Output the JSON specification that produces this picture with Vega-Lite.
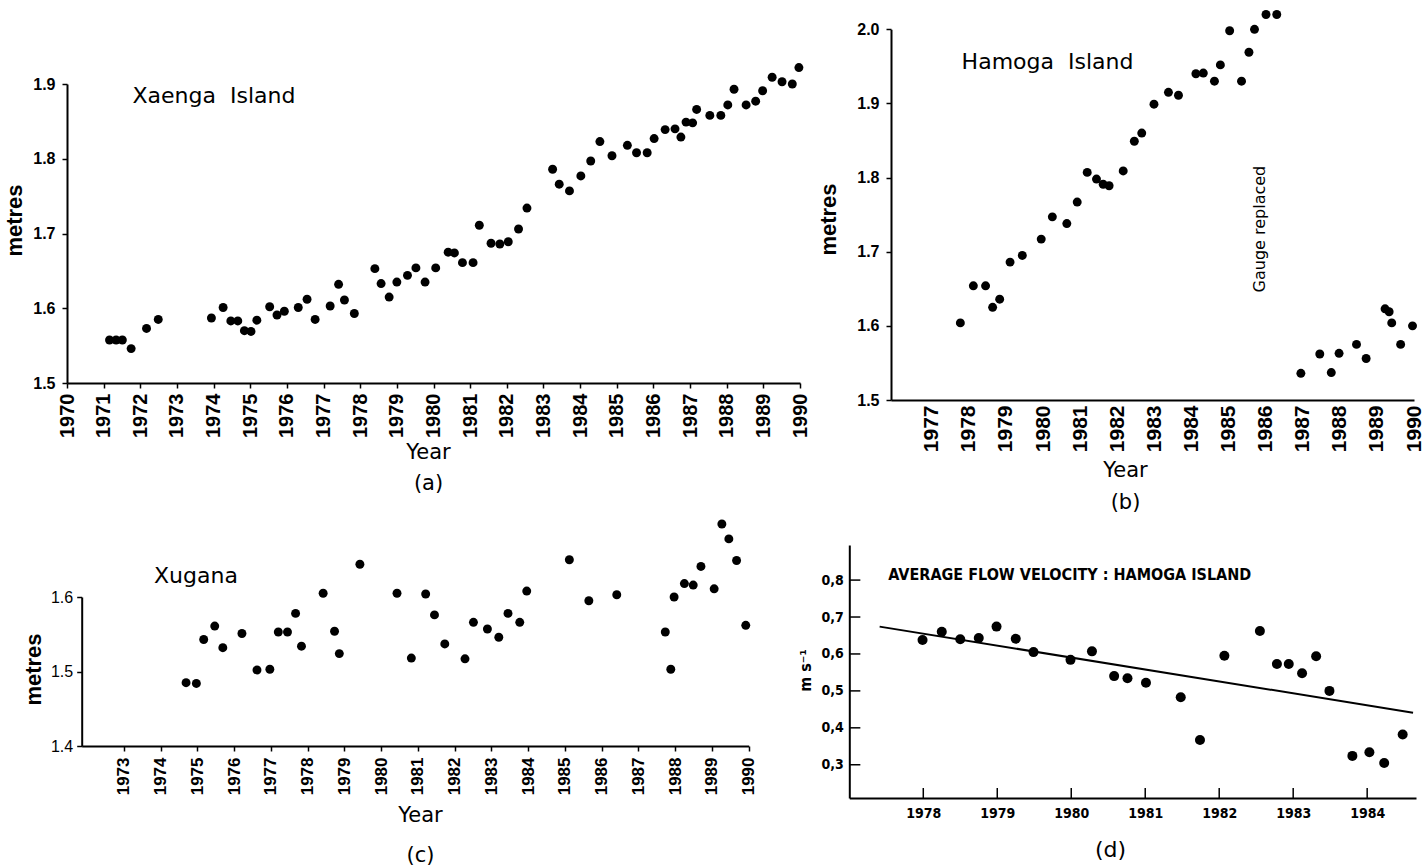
{
  "$schema": "https://vega.github.io/schema/vega-lite/v6.json",
  "width": 1424,
  "height": 867,
  "autosize": {"type": "none"},
  "padding": 0,
  "background": "white",
  "config": {
    "view": {"stroke": null},
    "axis": {"grid": false, "domainColor": "black", "tickColor": "black", "labelColor": "black", "titleColor": "black", "labelFlush": false, "labelOverlap": false, "labelBound": false, "domainWidth": 2, "tickWidth": 1.5}
  },
  "datasets": {
    "a": [
      {"year": 1971.16, "value": 1.5575}, {"year": 1971.34, "value": 1.5575}, {"year": 1971.51, "value": 1.5575}, {"year": 1971.75, "value": 1.546},
      {"year": 1972.17, "value": 1.573}, {"year": 1972.49, "value": 1.585}, {"year": 1973.94, "value": 1.587}, {"year": 1974.26, "value": 1.601},
      {"year": 1974.47, "value": 1.583}, {"year": 1974.66, "value": 1.583}, {"year": 1974.84, "value": 1.570}, {"year": 1975.02, "value": 1.569},
      {"year": 1975.18, "value": 1.584}, {"year": 1975.53, "value": 1.602}, {"year": 1975.73, "value": 1.591}, {"year": 1975.93, "value": 1.596},
      {"year": 1976.31, "value": 1.601}, {"year": 1976.55, "value": 1.612}, {"year": 1976.77, "value": 1.585}, {"year": 1977.18, "value": 1.603},
      {"year": 1977.41, "value": 1.632}, {"year": 1977.57, "value": 1.611}, {"year": 1977.84, "value": 1.593}, {"year": 1978.40, "value": 1.653},
      {"year": 1978.57, "value": 1.633}, {"year": 1978.79, "value": 1.615}, {"year": 1979.00, "value": 1.635}, {"year": 1979.29, "value": 1.644},
      {"year": 1979.52, "value": 1.654}, {"year": 1979.77, "value": 1.635}, {"year": 1980.06, "value": 1.654}, {"year": 1980.40, "value": 1.675},
      {"year": 1980.57, "value": 1.674}, {"year": 1980.79, "value": 1.661}, {"year": 1981.08, "value": 1.661}, {"year": 1981.25, "value": 1.711},
      {"year": 1981.57, "value": 1.687}, {"year": 1981.81, "value": 1.686}, {"year": 1982.04, "value": 1.689}, {"year": 1982.32, "value": 1.706},
      {"year": 1982.55, "value": 1.734}, {"year": 1983.25, "value": 1.786}, {"year": 1983.43, "value": 1.766}, {"year": 1983.71, "value": 1.757},
      {"year": 1984.02, "value": 1.777}, {"year": 1984.29, "value": 1.797}, {"year": 1984.54, "value": 1.823}, {"year": 1984.87, "value": 1.804},
      {"year": 1985.29, "value": 1.818}, {"year": 1985.54, "value": 1.808}, {"year": 1985.83, "value": 1.808}, {"year": 1986.02, "value": 1.827},
      {"year": 1986.32, "value": 1.839}, {"year": 1986.59, "value": 1.840}, {"year": 1986.75, "value": 1.829}, {"year": 1986.89, "value": 1.849},
      {"year": 1987.07, "value": 1.848}, {"year": 1987.18, "value": 1.866}, {"year": 1987.54, "value": 1.858}, {"year": 1987.84, "value": 1.858},
      {"year": 1988.03, "value": 1.872}, {"year": 1988.20, "value": 1.893}, {"year": 1988.53, "value": 1.872}, {"year": 1988.79, "value": 1.877},
      {"year": 1988.98, "value": 1.891}, {"year": 1989.24, "value": 1.909}, {"year": 1989.51, "value": 1.903}, {"year": 1989.79, "value": 1.900},
      {"year": 1989.97, "value": 1.922}
    ],
    "b": [
      {"year": 1977.77, "value": 1.604}, {"year": 1978.12, "value": 1.654}, {"year": 1978.45, "value": 1.654}, {"year": 1978.64, "value": 1.625},
      {"year": 1978.83, "value": 1.636}, {"year": 1979.11, "value": 1.686}, {"year": 1979.44, "value": 1.695}, {"year": 1979.95, "value": 1.717},
      {"year": 1980.25, "value": 1.747}, {"year": 1980.64, "value": 1.738}, {"year": 1980.92, "value": 1.767}, {"year": 1981.19, "value": 1.807},
      {"year": 1981.44, "value": 1.798}, {"year": 1981.62, "value": 1.791}, {"year": 1981.78, "value": 1.789}, {"year": 1982.16, "value": 1.809},
      {"year": 1982.46, "value": 1.849}, {"year": 1982.66, "value": 1.860}, {"year": 1982.99, "value": 1.899}, {"year": 1983.38, "value": 1.915},
      {"year": 1983.65, "value": 1.911}, {"year": 1984.12, "value": 1.940}, {"year": 1984.32, "value": 1.941}, {"year": 1984.62, "value": 1.930},
      {"year": 1984.78, "value": 1.952}, {"year": 1985.03, "value": 1.998}, {"year": 1985.35, "value": 1.930}, {"year": 1985.55, "value": 1.969},
      {"year": 1985.70, "value": 2.000}, {"year": 1986.01, "value": 2.020}, {"year": 1986.30, "value": 2.020}, {"year": 1986.95, "value": 1.536},
      {"year": 1987.46, "value": 1.562}, {"year": 1987.77, "value": 1.537}, {"year": 1987.98, "value": 1.563}, {"year": 1988.45, "value": 1.575},
      {"year": 1988.71, "value": 1.556}, {"year": 1989.22, "value": 1.623}, {"year": 1989.33, "value": 1.619}, {"year": 1989.40, "value": 1.604},
      {"year": 1989.64, "value": 1.575}, {"year": 1989.96, "value": 1.600}
    ],
    "c": [
      {"year": 1974.69, "value": 1.485}, {"year": 1974.97, "value": 1.484}, {"year": 1975.17, "value": 1.543}, {"year": 1975.47, "value": 1.561},
      {"year": 1975.69, "value": 1.532}, {"year": 1976.21, "value": 1.551}, {"year": 1976.62, "value": 1.502}, {"year": 1976.97, "value": 1.503},
      {"year": 1977.20, "value": 1.553}, {"year": 1977.45, "value": 1.553}, {"year": 1977.67, "value": 1.578}, {"year": 1977.83, "value": 1.534},
      {"year": 1978.42, "value": 1.605}, {"year": 1978.73, "value": 1.554}, {"year": 1978.86, "value": 1.524}, {"year": 1979.42, "value": 1.644},
      {"year": 1980.43, "value": 1.605}, {"year": 1980.82, "value": 1.518}, {"year": 1981.21, "value": 1.604}, {"year": 1981.45, "value": 1.576},
      {"year": 1981.73, "value": 1.537}, {"year": 1982.28, "value": 1.517}, {"year": 1982.51, "value": 1.566}, {"year": 1982.89, "value": 1.557},
      {"year": 1983.20, "value": 1.546}, {"year": 1983.45, "value": 1.578}, {"year": 1983.77, "value": 1.566}, {"year": 1983.96, "value": 1.608},
      {"year": 1985.12, "value": 1.650}, {"year": 1985.65, "value": 1.595}, {"year": 1986.41, "value": 1.603}, {"year": 1987.73, "value": 1.553},
      {"year": 1987.88, "value": 1.503}, {"year": 1987.97, "value": 1.600}, {"year": 1988.25, "value": 1.618}, {"year": 1988.49, "value": 1.616},
      {"year": 1988.70, "value": 1.641}, {"year": 1989.06, "value": 1.611}, {"year": 1989.27, "value": 1.698}, {"year": 1989.46, "value": 1.678},
      {"year": 1989.67, "value": 1.649}, {"year": 1989.92, "value": 1.562}
    ],
    "d": [
      {"year": 1977.99, "value": 0.638}, {"year": 1978.25, "value": 0.660}, {"year": 1978.50, "value": 0.640}, {"year": 1978.75, "value": 0.643},
      {"year": 1978.99, "value": 0.674}, {"year": 1979.25, "value": 0.641}, {"year": 1979.49, "value": 0.605}, {"year": 1979.99, "value": 0.584},
      {"year": 1980.28, "value": 0.607}, {"year": 1980.58, "value": 0.540}, {"year": 1980.76, "value": 0.534}, {"year": 1981.01, "value": 0.522},
      {"year": 1981.48, "value": 0.483}, {"year": 1981.74, "value": 0.367}, {"year": 1982.07, "value": 0.595}, {"year": 1982.55, "value": 0.662},
      {"year": 1982.78, "value": 0.573}, {"year": 1982.94, "value": 0.573}, {"year": 1983.12, "value": 0.548}, {"year": 1983.31, "value": 0.594},
      {"year": 1983.49, "value": 0.500}, {"year": 1983.80, "value": 0.324}, {"year": 1984.03, "value": 0.334}, {"year": 1984.23, "value": 0.305},
      {"year": 1984.48, "value": 0.382}
    ],
    "dtrend": [
      {"year": 1977.41, "value": 0.674}, {"year": 1984.62, "value": 0.441}
    ],
    "dticksx": [
      {"year": 1978}, {"year": 1979}, {"year": 1980}, {"year": 1981}, {"year": 1982}, {"year": 1983}, {"year": 1984}
    ],
    "dticksy": [
      {"value": 0.3}, {"value": 0.4}, {"value": 0.5}, {"value": 0.6}, {"value": 0.7}, {"value": 0.8}
    ],
    "labels": [
      {"panel": "a", "label": "Xaenga\u00a0 Island", "year": 1974.01, "value": 1.884},
      {"panel": "b", "label": "Hamoga\u00a0 Island", "year": 1980.12, "value": 1.9555},
      {"panel": "b", "label": "Gauge replaced", "year": 1985.86, "value": 1.7305},
      {"panel": "c", "label": "Xugana", "year": 1974.96, "value": 1.628},
      {"panel": "d", "label": "AVERAGE FLOW VELOCITY  :  HAMOGA ISLAND", "year": 1979.98, "value": 0.815}
    ]
  },
  "layer": [
    {
      "data": {"name": "a"},
      "mark": {"type": "circle", "size": 80, "color": "black", "opacity": 1},
      "encoding": {
        "x": {"field": "year", "type": "quantitative",
          "scale": {"domain": [1970, 1990], "range": [67, 800], "zero": false, "nice": false},
          "axis": {"orient": "bottom", "offset": -484, "values": [1970,1971,1972,1973,1974,1975,1976,1977,1978,1979,1980,1981,1982,1983,1984,1985,1986,1987,1988,1989,1990], "format": "d",
            "labelAngle": 270, "labelAlign": "right", "labelBaseline": "middle", "labelFont": "Liberation Sans Narrow, Liberation Sans", "labelFontSize": 20, "labelFontWeight": "bold", "labelPadding": 5, "tickSize": 5,
            "title": ["Year", "(a)"], "titleFont": "DejaVu Sans", "titleFontSize": 21, "titleFontWeight": "normal", "titleX": 428, "titleY": 58, "titleAlign": "center", "titleBaseline": "top", "titleAngle": 0, "titleLineHeight": 31}},
        "y": {"field": "value", "type": "quantitative",
          "scale": {"domain": [1.5, 1.9], "range": [383, 84], "zero": false, "nice": false},
          "axis": {"orient": "left", "offset": -67, "values": [1.5, 1.6, 1.7, 1.8, 1.9], "format": ".1f",
            "labelFont": "Liberation Sans", "labelFontSize": 16, "labelFontWeight": "bold", "labelPadding": 7, "tickSize": 5,
            "title": "metres", "titleFont": "Liberation Sans", "titleFontSize": 22, "titleFontWeight": "bold", "titleAngle": 270, "titleX": -53, "titleY": 220, "titleAlign": "center", "titleBaseline": "middle"}}
      }
    },
    {
      "data": {"name": "labels"},
      "transform": [{"filter": "datum.panel === 'a'"}],
      "mark": {"type": "text", "font": "DejaVu Sans", "fontSize": 22, "align": "center", "baseline": "middle", "color": "black"},
      "encoding": {
        "x": {"field": "year", "type": "quantitative", "scale": {"domain": [1970, 1990], "range": [67, 800], "zero": false, "nice": false}, "axis": null},
        "y": {"field": "value", "type": "quantitative", "scale": {"domain": [1.5, 1.9], "range": [383, 84], "zero": false, "nice": false}, "axis": null},
        "text": {"field": "label"}
      }
    },
    {
      "data": {"name": "b"},
      "mark": {"type": "circle", "size": 80, "color": "black", "opacity": 1},
      "encoding": {
        "x": {"field": "year", "type": "quantitative",
          "scale": {"domain": [1975.9, 1990], "range": [891, 1414], "zero": false, "nice": false},
          "axis": {"orient": "bottom", "offset": -467, "values": [1977,1978,1979,1980,1981,1982,1983,1984,1985,1986,1987,1988,1989,1990], "format": "d",
            "labelAngle": 270, "labelAlign": "right", "labelBaseline": "middle", "labelFont": "Liberation Sans Narrow, Liberation Sans", "labelFontSize": 21, "labelFontWeight": "bold", "labelPadding": 5, "ticks": false,
            "title": ["Year", "(b)"], "titleFont": "DejaVu Sans", "titleFontSize": 21, "titleFontWeight": "normal", "titleX": 1125, "titleY": 59, "titleAlign": "center", "titleBaseline": "top", "titleAngle": 0, "titleLineHeight": 32}},
        "y": {"field": "value", "type": "quantitative",
          "scale": {"domain": [1.5, 2.0], "range": [400, 29.3], "zero": false, "nice": false},
          "axis": {"orient": "left", "offset": -891, "values": [1.5, 1.6, 1.7, 1.8, 1.9, 2.0], "format": ".1f",
            "labelFont": "Liberation Sans", "labelFontSize": 16, "labelFontWeight": "bold", "labelPadding": 7, "tickSize": 5,
            "title": "metres", "titleFont": "Liberation Sans", "titleFontSize": 22, "titleFontWeight": "bold", "titleAngle": 270, "titleX": -63, "titleY": 219, "titleAlign": "center", "titleBaseline": "middle"}}
      }
    },
    {
      "data": {"name": "labels"},
      "transform": [{"filter": "datum.panel === 'b'"}],
      "mark": {"type": "text", "font": "DejaVu Sans", "fontSize": 22, "align": "center", "baseline": "middle", "color": "black"},
      "encoding": {
        "x": {"field": "year", "type": "quantitative", "scale": {"domain": [1975.9, 1990], "range": [891, 1414], "zero": false, "nice": false}, "axis": null},
        "y": {"field": "value", "type": "quantitative", "scale": {"domain": [1.5, 2.0], "range": [400, 29.3], "zero": false, "nice": false}, "axis": null},
        "text": {"field": "label"},
        "angle": {"condition": {"test": "datum.label === 'Gauge replaced'", "value": 270}, "value": 0},
        "size": {"condition": {"test": "datum.label === 'Gauge replaced'", "value": 16}, "value": 22}
      }
    },
    {
      "data": {"name": "c"},
      "mark": {"type": "circle", "size": 80, "color": "black", "opacity": 1},
      "encoding": {
        "x": {"field": "year", "type": "quantitative",
          "scale": {"domain": [1971.85, 1990], "range": [81.7, 748.7], "zero": false, "nice": false},
          "axis": {"orient": "bottom", "offset": -121, "values": [1973,1974,1975,1976,1977,1978,1979,1980,1981,1982,1983,1984,1985,1986,1987,1988,1989,1990], "format": "d",
            "labelAngle": 270, "labelAlign": "right", "labelBaseline": "middle", "labelFont": "Liberation Sans Narrow, Liberation Sans", "labelFontSize": 17, "labelFontWeight": "bold", "labelPadding": 6, "tickSize": 5,
            "title": ["Year", "(c)"], "titleFont": "DejaVu Sans", "titleFontSize": 21, "titleFontWeight": "normal", "titleX": 420, "titleY": 58, "titleAlign": "center", "titleBaseline": "top", "titleAngle": 0, "titleLineHeight": 40}},
        "y": {"field": "value", "type": "quantitative",
          "scale": {"domain": [1.4, 1.6], "range": [746, 597], "zero": false, "nice": false},
          "axis": {"orient": "left", "offset": -81.7, "values": [1.4, 1.5, 1.6], "format": ".1f",
            "labelFont": "Liberation Sans", "labelFontSize": 16, "labelFontWeight": "normal", "labelPadding": 4, "tickSize": 5,
            "title": "metres", "titleFont": "Liberation Sans", "titleFontSize": 22, "titleFontWeight": "bold", "titleAngle": 270, "titleX": -48, "titleY": 669, "titleAlign": "center", "titleBaseline": "middle"}}
      }
    },
    {
      "data": {"name": "labels"},
      "transform": [{"filter": "datum.panel === 'c'"}],
      "mark": {"type": "text", "font": "DejaVu Sans", "fontSize": 22, "align": "center", "baseline": "middle", "color": "black"},
      "encoding": {
        "x": {"field": "year", "type": "quantitative", "scale": {"domain": [1971.85, 1990], "range": [81.7, 748.7], "zero": false, "nice": false}, "axis": null},
        "y": {"field": "value", "type": "quantitative", "scale": {"domain": [1.4, 1.6], "range": [746, 597], "zero": false, "nice": false}, "axis": null},
        "text": {"field": "label"}
      }
    },
    {
      "data": {"name": "d"},
      "mark": {"type": "circle", "size": 100, "color": "black", "opacity": 1},
      "encoding": {
        "x": {"field": "year", "type": "quantitative",
          "scale": {"domain": [1977, 1984.66], "range": [849.3, 1416], "zero": false, "nice": false},
          "axis": {"orient": "bottom", "offset": -69, "values": [1978,1979,1980,1981,1982,1983,1984], "format": "d",
            "labelAngle": 0, "labelAlign": "center", "labelBaseline": "top", "labelFont": "DejaVu Sans Condensed, DejaVu Sans", "labelFontSize": 14, "labelFontWeight": "bold", "labelPadding": 8, "ticks": false,
            "title": "(d)", "titleFont": "DejaVu Sans", "titleFontSize": 22, "titleFontWeight": "normal", "titleX": 1110, "titleY": 41, "titleAlign": "center", "titleBaseline": "top", "titleAngle": 0}},
        "y": {"field": "value", "type": "quantitative",
          "scale": {"domain": [0.21, 0.895], "range": [798, 545], "zero": false, "nice": false},
          "axis": {"orient": "left", "offset": -849.3, "values": [0.3, 0.4, 0.5, 0.6, 0.7, 0.8], "labelExpr": "replace(format(datum.value, '.1f'), '.', ',')",
            "labelFont": "DejaVu Sans Condensed, DejaVu Sans", "labelFontSize": 14, "labelFontWeight": "bold", "labelPadding": 6, "ticks": false,
            "title": "m s\u207b\u00b9", "titleFont": "DejaVu Sans Condensed, DejaVu Sans", "titleFontSize": 16, "titleFontWeight": "bold", "titleAngle": 270, "titleX": -44, "titleY": 670, "titleAlign": "center", "titleBaseline": "middle"}}
      }
    },
    {
      "data": {"name": "dticksx"},
      "mark": {"type": "tick", "orient": "vertical", "size": 10, "thickness": 1.5, "color": "black", "opacity": 1},
      "encoding": {
        "x": {"field": "year", "type": "quantitative", "scale": {"domain": [1977, 1984.66], "range": [849.3, 1416], "zero": false, "nice": false}, "axis": null},
        "y": {"datum": 0.2235, "type": "quantitative", "scale": {"domain": [0.21, 0.895], "range": [798, 545], "zero": false, "nice": false}, "axis": null}
      }
    },
    {
      "data": {"name": "dticksy"},
      "mark": {"type": "tick", "orient": "horizontal", "size": 11, "thickness": 1.5, "color": "black", "opacity": 1},
      "encoding": {
        "y": {"field": "value", "type": "quantitative", "scale": {"domain": [0.21, 0.895], "range": [798, 545], "zero": false, "nice": false}, "axis": null},
        "x": {"datum": 1977.075, "type": "quantitative", "scale": {"domain": [1977, 1984.66], "range": [849.3, 1416], "zero": false, "nice": false}, "axis": null}
      }
    },
    {
      "data": {"name": "dtrend"},
      "mark": {"type": "line", "color": "black", "strokeWidth": 2},
      "encoding": {
        "x": {"field": "year", "type": "quantitative", "scale": {"domain": [1977, 1984.66], "range": [849.3, 1416], "zero": false, "nice": false}, "axis": null},
        "y": {"field": "value", "type": "quantitative", "scale": {"domain": [0.21, 0.895], "range": [798, 545], "zero": false, "nice": false}, "axis": null}
      }
    },
    {
      "data": {"name": "labels"},
      "transform": [{"filter": "datum.panel === 'd'"}],
      "mark": {"type": "text", "font": "DejaVu Sans Condensed, DejaVu Sans", "fontSize": 16, "fontWeight": "bold", "align": "center", "baseline": "middle", "color": "black"},
      "encoding": {
        "x": {"field": "year", "type": "quantitative", "scale": {"domain": [1977, 1984.66], "range": [849.3, 1416], "zero": false, "nice": false}, "axis": null},
        "y": {"field": "value", "type": "quantitative", "scale": {"domain": [0.21, 0.895], "range": [798, 545], "zero": false, "nice": false}, "axis": null},
        "text": {"field": "label"}
      }
    }
  ],
  "resolve": {
    "scale": {"x": "independent", "y": "independent"},
    "axis": {"x": "independent", "y": "independent"}
  }
}
